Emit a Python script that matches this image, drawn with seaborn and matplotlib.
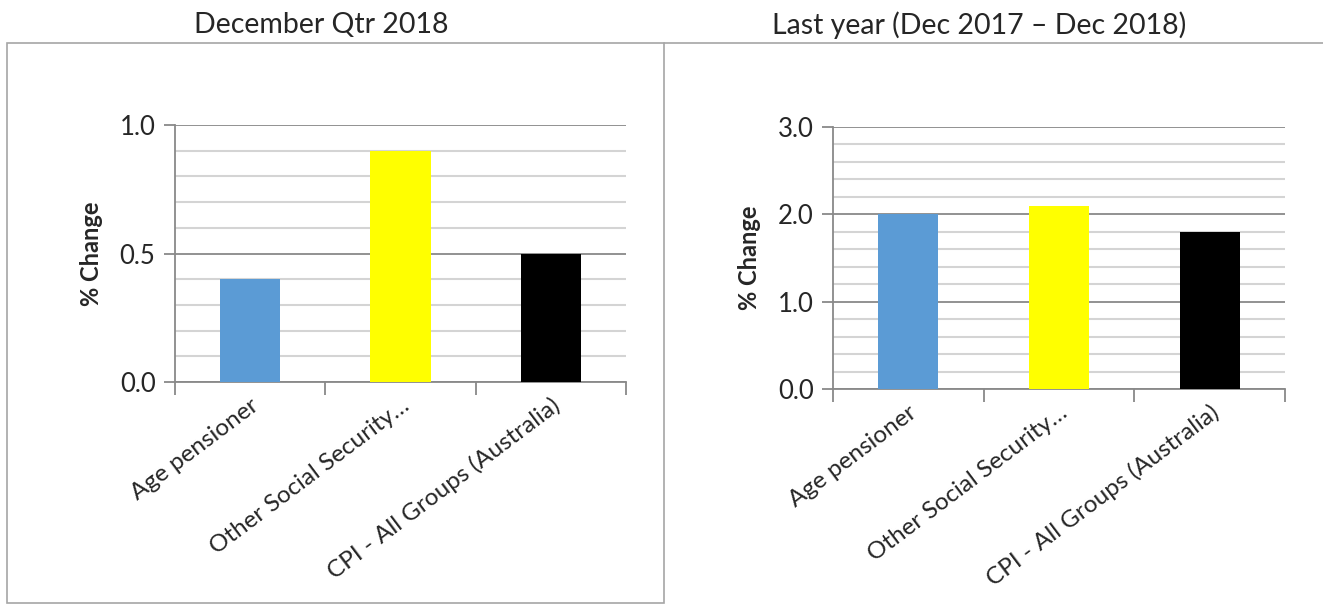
import matplotlib
matplotlib.use("Agg")
import matplotlib.pyplot as plt
import seaborn as sns
import pandas as pd
from matplotlib.ticker import MultipleLocator, FixedLocator
from matplotlib.patches import Rectangle
from matplotlib.lines import Line2D

categories = ["Age pensioner", "Other Social Security\u2026", "CPI - All Groups (Australia)"]
qtr_values = [0.4, 0.9, 0.5]
year_values = [2.0, 2.1, 1.8]
colors = ["#5B9BD5", "#FFFF00", "#000000"]
title_left = "December Qtr 2018"
title_right = "Last year (Dec 2017 \u2013 Dec 2018)"

sns.set_theme(style="white")
plt.rcParams['font.family'] = ['Lato', 'DejaVu Sans']

fig = plt.figure(figsize=(13.23, 6.07), dpi=100)

axL = fig.add_axes([175/1323, 1-382/607, (626-175)/1323, (382-125)/607])
axR = fig.add_axes([833/1323, 1-389/607, (1285-833)/1323, (389-127)/607])

MAJ = "#898989"
MIN = "#d4d4d4"

def draw(ax, vals, ymax, major, minor):
    df = pd.DataFrame({"cat": categories, "val": vals})
    sns.barplot(data=df, x="cat", y="val", hue="cat", palette=colors,
                width=0.4, saturation=1, legend=False, ax=ax, zorder=3,
                linewidth=0, edgecolor="none")
    ax.set_xlim(-0.5, 2.5)
    ax.set_ylim(0, ymax)
    ax.yaxis.set_major_locator(MultipleLocator(major))
    ax.yaxis.set_minor_locator(MultipleLocator(minor))
    ax.yaxis.set_major_formatter(matplotlib.ticker.FormatStrFormatter("%.1f"))
    ax.grid(False)
    ax.grid(True, axis="y", which="minor", color=MIN, lw=1.5, zorder=0)
    ax.grid(True, axis="y", which="major", color=MAJ, lw=1.3, zorder=1)
    ax.set_axisbelow(True)
    for s in ["top", "right"]:
        ax.spines[s].set_visible(False)
    for s in ["left", "bottom"]:
        ax.spines[s].set_color(MAJ)
        ax.spines[s].set_linewidth(1.3)
    ax.tick_params(axis="y", which="major", length=8, width=1.3, color=MAJ,
                   labelsize=18.5, pad=6, left=True)
    ax.tick_params(axis="y", which="minor", length=0)
    ax.xaxis.set_minor_locator(FixedLocator([-0.5, 0.5, 1.5, 2.5]))
    ax.tick_params(axis="x", which="minor", length=9, width=1.3, color=MAJ, bottom=True)
    ax.tick_params(axis="x", which="major", length=0, labelsize=17.5, pad=9)
    for lab in ax.get_xticklabels():
        lab.set_rotation(37)
        lab.set_ha("right")
        lab.set_rotation_mode("anchor")
    ax.set_xlabel("")
    ax.set_ylabel("% Change", fontsize=17, fontweight="bold", labelpad=12)

draw(axL, qtr_values, 1.0, 0.5, 0.1)
draw(axR, year_values, 3.0, 1.0, 0.2)

fig.text(321/1323, 1-25/607, title_left, ha="center", va="center", fontsize=20.5)
fig.text(979/1323, 1-25/607, title_right, ha="center", va="center", fontsize=20.5)

fig.patches.append(Rectangle((7/1323, 1-603/607), (664-7)/1323, (603-43)/607,
                             transform=fig.transFigure, fill=False,
                             edgecolor="#a6a6a6", lw=1.2))
fig.lines.append(Line2D([664/1323, 1.0], [1-43/607, 1-43/607], transform=fig.transFigure,
                        color="#a6a6a6", lw=1.2))

fig.savefig("out.png", dpi=100, facecolor="white")
